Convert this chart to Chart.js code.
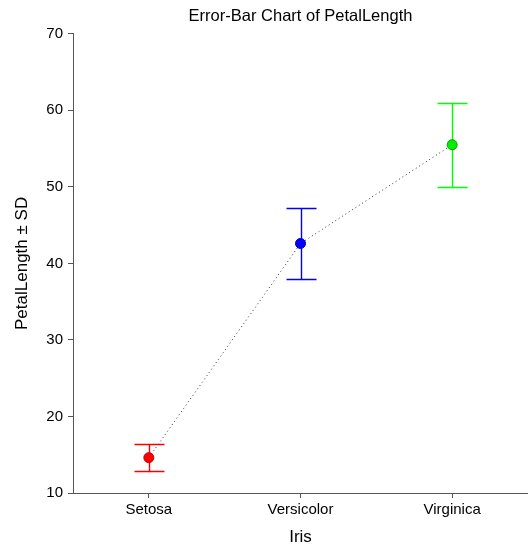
<!DOCTYPE html>
<html>
<head>
<meta charset="utf-8">
<script src="https://cdn.jsdelivr.net/npm/chart.js@4/dist/chart.umd.min.js"></script>
<style>
  html, body { margin: 0; padding: 0; background: #fff; }
  #wrap { width: 528px; height: 550px; }
</style>
</head>
<body>
<div id="wrap"><canvas id="c" width="528" height="550"></canvas></div>
<script>
const categories = ["Setosa", "Versicolor", "Virginica"];
const means = [14.62, 42.6, 55.5];
const sds = [1.74, 4.7, 5.5];
const pointColors = ["#FF0000", "#0000FF", "#00F000"];
const pointBorders = ["#C00000", "#0000B0", "#00A000"];
const barColors = ["#FF0000", "#0000FF", "#00FF00"];
const yTicks = [10, 20, 30, 40, 50, 60, 70];

const FONT = "'Liberation Sans', Arial, sans-serif";

const errorBars = {
  id: 'errorBars',
  beforeDatasetsDraw(chart) {
    const ctx = chart.ctx;
    const xs = chart.scales.x, ys = chart.scales.y;
    categories.forEach((c, i) => {
      const x = Math.round(xs.getPixelForValue(i)) + 0.5;
      const yHi = Math.round(ys.getPixelForValue(means[i] + sds[i])) + 0.5;
      const yLo = Math.round(ys.getPixelForValue(means[i] - sds[i])) + 0.5;
      ctx.save();
      ctx.setLineDash([]);
      ctx.globalAlpha = 1;
      ctx.lineWidth = 1.4;
      ctx.strokeStyle = barColors[i];
      ctx.beginPath();
      ctx.moveTo(x, yHi); ctx.lineTo(x, yLo);
      ctx.moveTo(x - 15, yHi); ctx.lineTo(x + 15, yHi);
      ctx.moveTo(x - 15, yLo); ctx.lineTo(x + 15, yLo);
      ctx.stroke();
      ctx.restore();
    });
  }
};

new Chart(document.getElementById('c'), {
  type: 'line',
  data: {
    labels: categories,
    datasets: [{
      data: means,
      borderColor: '#333333',
      borderWidth: 1,
      borderDash: [1, 3],
      pointRadius: 5,
      pointHoverRadius: 5,
      pointBackgroundColor: pointColors,
      pointBorderColor: pointBorders,
      pointBorderWidth: 1,
      tension: 0,
      fill: false
    }]
  },
  plugins: [errorBars],
  options: {
    responsive: false,
    animation: false,
    devicePixelRatio: 1,
    layout: { padding: 0, autoPadding: false },
    plugins: {
      legend: { display: false },
      tooltip: { enabled: false },
      title: {
        display: true,
        text: 'Error-Bar Chart of PetalLength',
        fullSize: false,
        color: '#000',
        font: { family: FONT, size: 16.5, weight: 'normal' },
        padding: { top: 7, bottom: 7 }
      }
    },
    scales: {
      x: {
        type: 'category',
        offset: true,
        afterFit(s) { s.height = 57; },
        grid: { display: true, drawOnChartArea: false, drawTicks: true, tickLength: 5, color: '#555', offset: false },
        border: { display: true, color: '#555', width: 1 },
        ticks: { color: '#000', padding: 3, font: { family: FONT, size: 15 } },
        title: { display: true, text: 'Iris', color: '#000', font: { family: FONT, size: 17 }, padding: { top: 0, bottom: 2 } }
      },
      y: {
        min: 10,
        max: 70,
        afterFit(s) { s.width = 73; },
        afterBuildTicks(s) { s.ticks = yTicks.map(v => ({ value: v })); },
        grid: { display: true, drawOnChartArea: false, drawTicks: true, tickLength: 5, color: '#555' },
        border: { display: true, color: '#555', width: 1 },
        ticks: { color: '#000', padding: 5, font: { family: FONT, size: 15 } },
        title: { display: true, text: 'PetalLength ± SD', color: '#000', font: { family: FONT, size: 17 }, padding: { top: 12, bottom: 0 } }
      }
    }
  }
});
</script>
</body>
</html>
